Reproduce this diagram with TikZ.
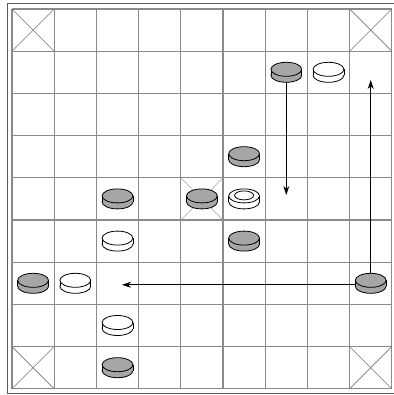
\documentclass[tikz,border=0pt]{standalone}
\usetikzlibrary{arrows.meta}
\definecolor{gridc}{HTML}{8A8A8A}
\definecolor{framec}{HTML}{5A5A5A}
\definecolor{crossc}{HTML}{7A7A7A}
\definecolor{thronec}{HTML}{A8A8A8}
\definecolor{darkp}{HTML}{A6A6A6}
\tikzset{
  gridline/.style={draw=gridc, line width=1.1pt},
  frameline/.style={draw=framec, line width=0.8pt},
  crossline/.style={draw=crossc, line width=0.6pt},
  throneline/.style={draw=thronec, line width=0.6pt},
  discline/.style={draw=black, line width=0.8pt},
  arr/.style={draw=black, line width=0.8pt, -{Stealth[length=9pt,width=6pt]}},
}
\newcommand\mydisc[4]{%
  \coordinate (#1) at ({12+42.2*(#2+0.5)},{9+42.2*(#3+0.5)});
  \filldraw[fill=#4, discline] ([shift={(0,3)}]#1) ellipse [x radius=15.4, y radius=7];
  \fill[#4] ([shift={(-15.4,-3)}]#1) rectangle ([shift={(15.4,3)}]#1);
  \draw[discline] ([shift={(-15.4,-3)}]#1) -- ([shift={(-15.4,3)}]#1);
  \draw[discline] ([shift={(15.4,-3)}]#1) -- ([shift={(15.4,3)}]#1);
  \filldraw[fill=#4, discline] ([shift={(0,-3)}]#1) ellipse [x radius=15.4, y radius=7];
}
\begin{document}
\begin{tikzpicture}[x=1pt,y=-1pt]
\useasboundingbox (0,0) rectangle (393,395);
\fill[white] (0,0) rectangle (393,395);
% outer frame
\draw[frameline] (7,3.5) rectangle (397,393.8);
% grid
\foreach \i in {0,...,9} {
  \draw[gridline] ({12+42.2*\i},9) -- ({12+42.2*\i},388.8);
  \draw[gridline] (12,{9+42.2*\i}) -- (391.8,{9+42.2*\i});
}
% corner crosses
\foreach \c/\r in {0/0,8/0,0/8,8/8} {
  \draw[crossline] ({12+42.2*\c},{9+42.2*\r}) -- ({12+42.2*(\c+1)},{9+42.2*(\r+1)});
  \draw[crossline] ({12+42.2*(\c+1)},{9+42.2*\r}) -- ({12+42.2*\c},{9+42.2*(\r+1)});
}
% throne cross
\draw[throneline] ({12+42.2*4},{9+42.2*4}) -- ({12+42.2*5},{9+42.2*5});
\draw[throneline] ({12+42.2*5},{9+42.2*4}) -- ({12+42.2*4},{9+42.2*5});
% pieces
\mydisc{b1}{6}{1}{darkp}
\mydisc{w1}{7}{1}{white}
\mydisc{b2}{5}{3}{darkp}
\mydisc{b3}{2}{4}{darkp}
\mydisc{b4}{4}{4}{darkp}
\mydisc{k}{5}{4}{white}
\draw[discline] ([shift={(0,-3.5)}]k) ellipse [x radius=9.5, y radius=4.5];
\mydisc{w2}{2}{5}{white}
\mydisc{b5}{5}{5}{darkp}
\mydisc{b6}{0}{6}{darkp}
\mydisc{w3}{1}{6}{white}
\mydisc{b7}{8}{6}{darkp}
\mydisc{w4}{2}{7}{white}
\mydisc{b8}{2}{8}{darkp}
% arrow targets
\coordinate (t1) at ({12+42.2*6.5},195);
\coordinate (t2) at ({12+42.2*8.5},80);
\coordinate (t3) at (122,{9+42.2*6.5+1.5});
\draw[arr] ([shift={(0,10)}]b1) -- (t1);
\draw[arr] ([shift={(0,-10)}]b7) -- (t2);
\draw[arr] ([shift={(-15.4,1.5)}]b7) -- (t3);
\end{tikzpicture}
\end{document}
